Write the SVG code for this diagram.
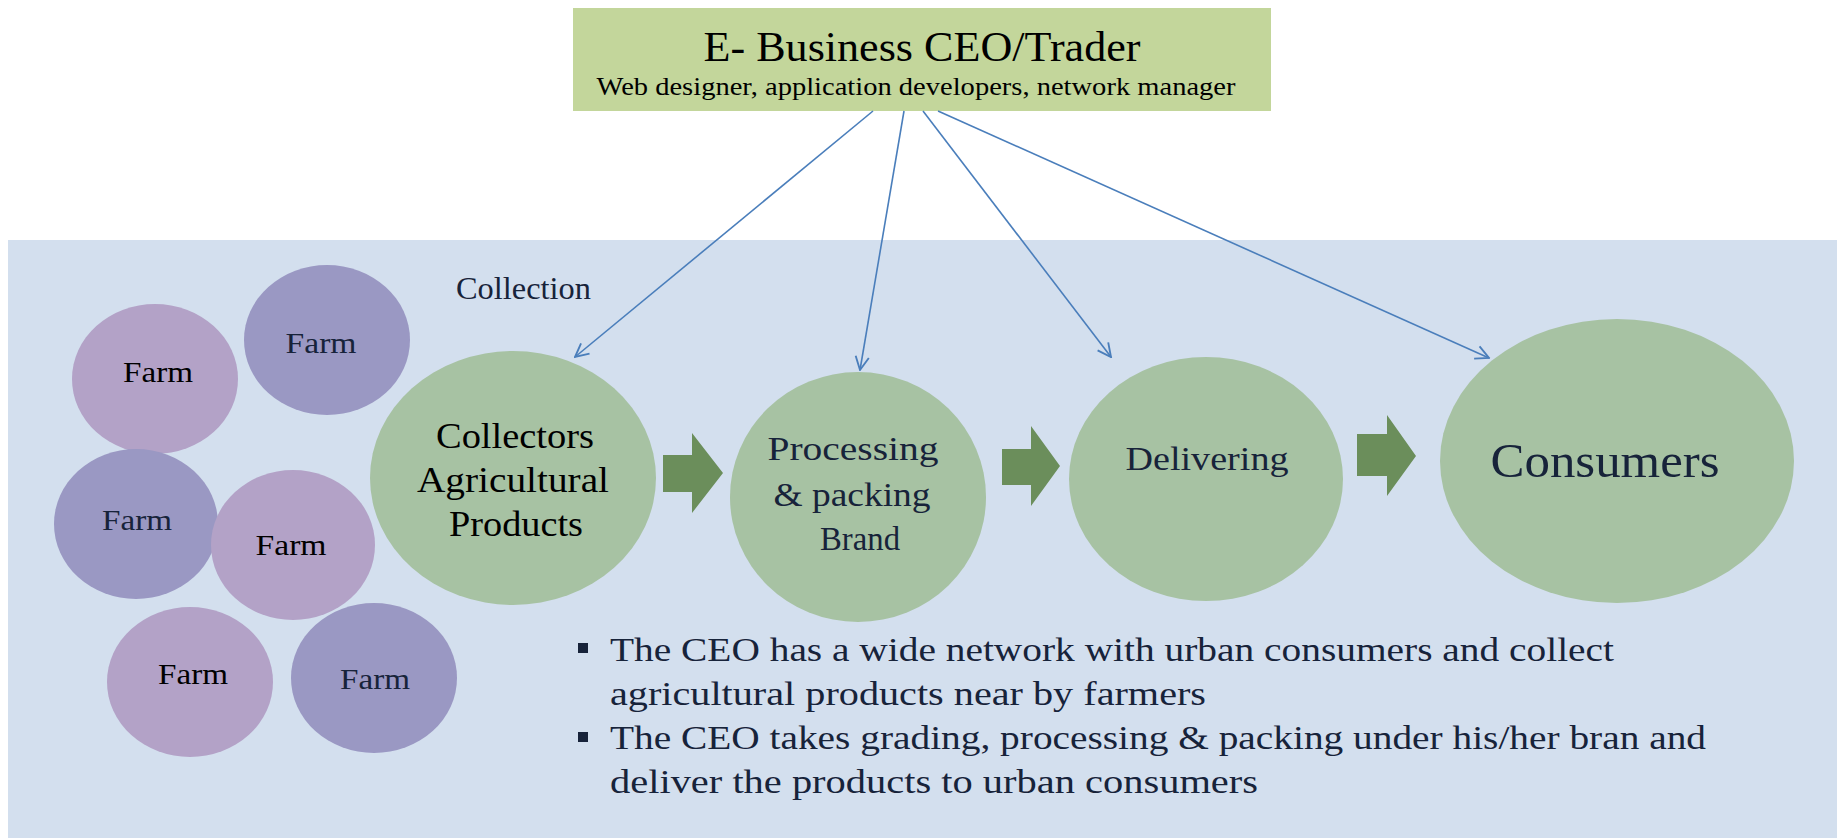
<svg xmlns="http://www.w3.org/2000/svg" width="1837" height="838" viewBox="0 0 1837 838">
<defs>
<style>
.t{font-family:"Liberation Serif","DejaVu Serif",serif;fill:#17233a;}
.farm-p{fill:#b3a2c7;}
.farm-b{fill:#9a98c3;}
.step{fill:#a7c2a3;}
.blk{fill:#6b8e5b;}
.conn{stroke:#4a7ebb;stroke-width:1.6;fill:none;}
</style>
<marker id="open" viewBox="0 0 12 12" refX="11" refY="6" markerWidth="16" markerHeight="16" markerUnits="userSpaceOnUse" orient="auto">
<path d="M1,1 L11,6 L1,11" fill="none" stroke="#4a7ebb" stroke-width="1.4"/>
</marker>
</defs>
<rect x="0" y="0" width="1837" height="838" fill="#ffffff"/>
<rect id="panel" x="8" y="240" width="1829" height="598" fill="#d3dfee"/>

<g id="ceo">
<rect x="573" y="8" width="698" height="103" fill="#c3d69b"/>
<text class="t" x="922" y="61" font-size="42" text-anchor="middle" fill="#000" style="fill:#000" textLength="437" lengthAdjust="spacingAndGlyphs">E- Business CEO/Trader</text>
<text class="t" x="916" y="95" font-size="25" text-anchor="middle" style="fill:#000" textLength="639" lengthAdjust="spacingAndGlyphs">Web designer, application developers, network manager</text>
</g>

<text id="collection" class="t" x="456" y="299" font-size="31" textLength="135" lengthAdjust="spacingAndGlyphs">Collection</text>

<g id="farm1"><ellipse class="farm-p" cx="155" cy="379" rx="83" ry="75"/><text class="t" x="158" y="382" font-size="30" text-anchor="middle" style="fill:#000" textLength="70" lengthAdjust="spacingAndGlyphs">Farm</text></g>
<g id="farm2"><ellipse class="farm-b" cx="327" cy="340" rx="83" ry="75"/><text class="t" x="321" y="353" font-size="30" text-anchor="middle" textLength="71" lengthAdjust="spacingAndGlyphs">Farm</text></g>
<g id="farm3"><ellipse class="farm-b" cx="136" cy="524" rx="82" ry="75"/><text class="t" x="137" y="530" font-size="30" text-anchor="middle" textLength="70" lengthAdjust="spacingAndGlyphs">Farm</text></g>
<g id="farm4"><ellipse class="farm-p" cx="293" cy="545" rx="82" ry="75"/><text class="t" x="291" y="555" font-size="30" text-anchor="middle" style="fill:#000" textLength="71" lengthAdjust="spacingAndGlyphs">Farm</text></g>
<g id="farm5"><ellipse class="farm-p" cx="190" cy="682" rx="83" ry="75"/><text class="t" x="193" y="684" font-size="30" text-anchor="middle" style="fill:#000" textLength="70" lengthAdjust="spacingAndGlyphs">Farm</text></g>
<g id="farm6"><ellipse class="farm-b" cx="374" cy="678" rx="83" ry="75"/><text class="t" x="375" y="689" font-size="30" text-anchor="middle" textLength="70" lengthAdjust="spacingAndGlyphs">Farm</text></g>

<g id="collectors"><ellipse class="step" cx="513" cy="478" rx="143" ry="127"/>
<text class="t" x="515" y="448" font-size="35" text-anchor="middle" style="fill:#000" textLength="158" lengthAdjust="spacingAndGlyphs">Collectors</text>
<text class="t" x="513" y="492" font-size="35" text-anchor="middle" style="fill:#000" textLength="192" lengthAdjust="spacingAndGlyphs">Agricultural</text>
<text class="t" x="516" y="536" font-size="35" text-anchor="middle" style="fill:#000" textLength="134" lengthAdjust="spacingAndGlyphs">Products</text>
</g>

<g id="processing"><ellipse class="step" cx="858" cy="497" rx="128" ry="125"/>
<text class="t" x="853" y="460" font-size="34" text-anchor="middle" textLength="171" lengthAdjust="spacingAndGlyphs">Processing</text>
<text class="t" x="852" y="506" font-size="34" text-anchor="middle" textLength="157" lengthAdjust="spacingAndGlyphs">&amp; packing</text>
<text class="t" x="860" y="550" font-size="34" text-anchor="middle" textLength="80" lengthAdjust="spacingAndGlyphs">Brand</text>
</g>

<g id="delivering"><ellipse class="step" cx="1206" cy="479" rx="137" ry="122"/>
<text class="t" x="1207" y="470" font-size="34" text-anchor="middle" textLength="163" lengthAdjust="spacingAndGlyphs">Delivering</text>
</g>

<g id="consumers"><ellipse class="step" cx="1617" cy="461" rx="177" ry="142"/>
<text class="t" x="1605" y="477" font-size="48" text-anchor="middle" textLength="229" lengthAdjust="spacingAndGlyphs">Consumers</text>
</g>

<g id="flow-arrows">
<path class="blk" d="M663,455 L692,455 L692,433 L723,473 L692,513 L692,492 L663,492 Z"/>
<path class="blk" d="M1002,449 L1031,449 L1031,426 L1060,466 L1031,506 L1031,485 L1002,485 Z"/>
<path class="blk" d="M1357,434 L1387,434 L1387,415 L1416,456 L1387,496 L1387,476 L1357,476 Z"/>
</g>

<g id="connectors">
<line class="conn" x1="873" y1="111" x2="575" y2="357" marker-end="url(#open)"/>
<line class="conn" x1="904" y1="111" x2="860" y2="370" marker-end="url(#open)"/>
<line class="conn" x1="923" y1="111" x2="1111" y2="357" marker-end="url(#open)"/>
<line class="conn" x1="938" y1="111" x2="1489" y2="358" marker-end="url(#open)"/>
</g>

<g id="notes">
<rect x="578" y="643" width="10" height="10" fill="#17233a"/>
<rect x="578" y="732" width="10" height="10" fill="#17233a"/>
<text class="t" x="610" y="661" font-size="34" textLength="1004" lengthAdjust="spacingAndGlyphs">The CEO has a wide network with urban consumers and collect</text>
<text class="t" x="610" y="705" font-size="34" textLength="596" lengthAdjust="spacingAndGlyphs">agricultural products near by farmers</text>
<text class="t" x="610" y="749" font-size="34" textLength="1096" lengthAdjust="spacingAndGlyphs">The CEO takes grading, processing &amp; packing under his/her bran and</text>
<text class="t" x="610" y="793" font-size="34" textLength="648" lengthAdjust="spacingAndGlyphs">deliver the products to urban consumers</text>
</g>
</svg>
